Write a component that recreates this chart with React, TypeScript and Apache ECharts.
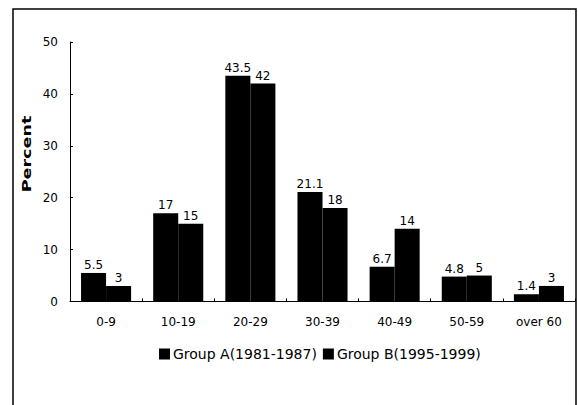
import React, { useEffect, useRef } from "react";
import * as echarts from "echarts";

const categories = ["0-9", "10-19", "20-29", "30-39", "40-49", "50-59", "over 60"];
const groupA = [5.5, 17, 43.5, 21.1, 6.7, 4.8, 1.4];
const groupB = [3, 15, 42, 18, 14, 5, 3];
const seriesNames = ["Group A(1981-1987)", "Group B(1995-1999)"];
const yTitle = "Percent";
const yTicks = { min: 0, max: 50, interval: 10 };

export default function App() {
  const ref = useRef<HTMLDivElement>(null);
  useEffect(() => {
    const chart = echarts.init(ref.current!, null, { renderer: "svg" });
    const font = "DejaVu Sans, Liberation Sans, sans-serif";
    const label = {
      show: true,
      position: "top",
      distance: 2,
      color: "#000",
      fontSize: 12,
      fontFamily: font,
    };
    chart.setOption({
      animation: false,
      backgroundColor: "#fff",
      textStyle: { fontFamily: font, color: "#000" },
      graphic: [
        {
          type: "rect",
          shape: { x: 13, y: 9, width: 563, height: 410 },
          style: { fill: "none", stroke: "#000", lineWidth: 1.5 },
          silent: true,
        },
        {
          type: "text",
          x: 27,
          y: 154,
          rotation: Math.PI / 2,
          scaleX: 1.35,
          style: {
            text: yTitle,
            fill: "#000",
            font: "bold 13px DejaVu Sans, sans-serif",
            textAlign: "center",
            textVerticalAlign: "middle",
            align: "center",
            verticalAlign: "middle",
          },
          silent: true,
        },
      ],
      grid: { left: 70, right: 3, top: 42, bottom: 103.5, containLabel: false },
      legend: {
        show: true,
        left: 154,
        top: 342,
        itemWidth: 11,
        itemHeight: 11,
        itemGap: 6,
        icon: "rect",
        textStyle: { fontSize: 14, color: "#000", fontFamily: font, padding: [0, 0, 0, -2] },
        data: seriesNames,
      },
      xAxis: {
        type: "category",
        data: categories,
        axisLine: { lineStyle: { color: "#000", width: 1 } },
        axisTick: { show: true, inside: true, length: 3, alignWithLabel: false, lineStyle: { color: "#000" } },
        axisLabel: { color: "#000", fontSize: 12, margin: 14, fontFamily: font },
      },
      yAxis: {
        type: "value",
        min: yTicks.min,
        max: yTicks.max,
        interval: yTicks.interval,
        splitLine: { show: false },
        axisLine: { show: true, lineStyle: { color: "#000", width: 1 } },
        axisTick: { show: true, inside: true, length: 3, lineStyle: { color: "#000" } },
        axisLabel: { color: "#000", fontSize: 12, margin: 12, fontFamily: font },
      },
      series: [
        {
          name: seriesNames[0],
          type: "bar",
          data: groupA,
          barGap: "0%",
          barCategoryGap: "30.6%",
          itemStyle: { color: "#000" },
          label,
        },
        {
          name: seriesNames[1],
          type: "bar",
          data: groupB,
          barGap: "0%",
          barCategoryGap: "30.6%",
          itemStyle: { color: "#000" },
          label,
        },
      ],
    });
    return () => chart.dispose();
  }, []);
  return (
    <div
      ref={ref}
      style={{ position: "fixed", left: 0, top: 0, width: 578, height: 405 }}
    />
  );
}
